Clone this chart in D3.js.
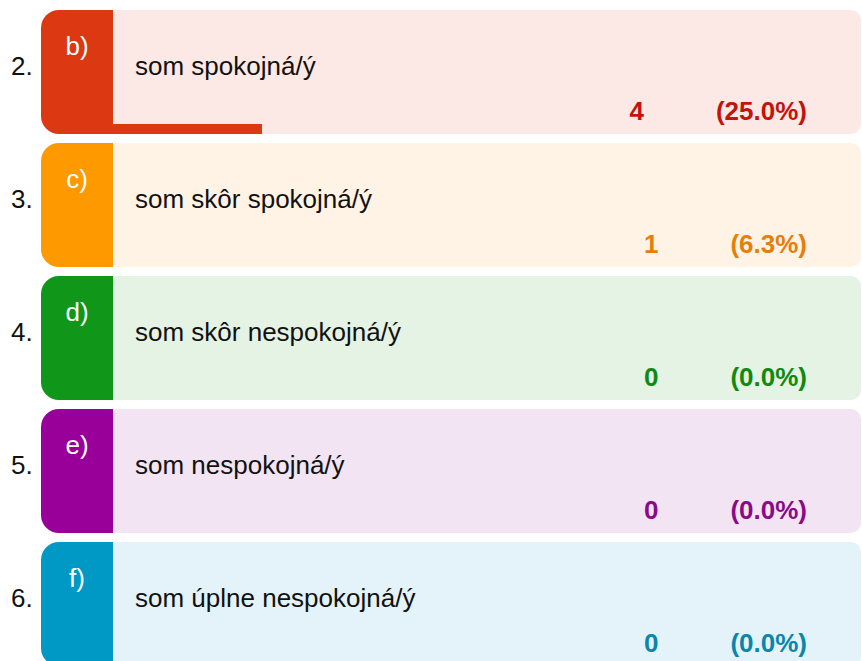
<!DOCTYPE html>
<html>
<head>
<meta charset="utf-8">
<script src="https://cdn.jsdelivr.net/npm/d3@7"></script>
<style>
  html, body { margin: 0; padding: 0; background: #ffffff; }
  svg { display: block; }
</style>
</head>
<body>
<svg id="chart" width="862" height="661"></svg>
<script>
// ---- data ----
const rowNumbers = ["2.", "3.", "4.", "5.", "6."];
const letters = ["b)", "c)", "d)", "e)", "f)"];
const labels = ["som spokojná/ý", "som skôr spokojná/ý", "som skôr nespokojná/ý", "som nespokojná/ý", "som úplne nespokojná/ý"];
const counts = [4, 1, 0, 0, 0];
const percents = [25.0, 6.3, 0.0, 0.0, 0.0];
const barPercent = [25.0, 0, 0, 0, 0];
const tabColors = ["#dc3912", "#ff9900", "#109618", "#990099", "#0099c6"];
const bgColors = ["#fce8e5", "#fff3e6", "#e5f3e5", "#f3e4f3", "#e3f3f9"];
const textColors = ["#c4130a", "#e67e0a", "#0e8a0e", "#8a0a8a", "#0a86ad"];

// ---- layout ----
const svg = d3.select("#chart");
const rowH = 124;
const left = 41, tabW = 72, right = 861;
const y = d3.scaleBand().domain(d3.range(rowNumbers.length)).range([10, 10 + 133 * rowNumbers.length]).paddingInner(9 / 133).paddingOuter(0);
const barX = d3.scaleLinear().domain([0, 100]).range([0, 600]);
const font = "Arial, 'Liberation Sans', sans-serif";

function tabPath(x0, y0, w, h, r) {
  return `M${x0 + r},${y0} H${x0 + w} V${y0 + h} H${x0 + r} A${r},${r} 0 0 1 ${x0},${y0 + h - r} V${y0 + r} A${r},${r} 0 0 1 ${x0 + r},${y0} Z`;
}

const rows = svg.selectAll("g.row").data(rowNumbers).join("g").attr("class", "row")
  .attr("transform", (d, i) => `translate(0,${10 + 133 * i})`);

rows.append("rect")
  .attr("x", left + 20).attr("y", 0)
  .attr("width", right - left - 20).attr("height", rowH)
  .attr("rx", 10).attr("ry", 10)
  .attr("fill", (d, i) => bgColors[i]);

rows.append("path")
  .attr("d", tabPath(left, 0, tabW, rowH, 18))
  .attr("fill", (d, i) => tabColors[i]);

rows.append("rect")
  .attr("x", left + tabW - 1).attr("y", 0)
  .attr("width", barX(0)).attr("height", 0);

rows.filter((d, i) => barPercent[i] > 0).append("rect")
  .attr("x", left + tabW - 1)
  .attr("y", rowH - 10)
  .attr("width", (d) => barX(barPercent[rowNumbers.indexOf(d)]))
  .attr("height", 10)
  .attr("fill", (d) => tabColors[rowNumbers.indexOf(d)]);

rows.append("text")
  .attr("x", 11).attr("y", 65)
  .attr("font-family", font).attr("font-size", 26)
  .attr("fill", "#111")
  .text(d => d);

rows.append("text")
  .attr("x", left + tabW / 2).attr("y", 45)
  .attr("text-anchor", "middle")
  .attr("font-family", font).attr("font-size", 26)
  .attr("fill", "#ffffff")
  .text((d, i) => letters[i]);

rows.append("text")
  .attr("x", 135).attr("y", 65)
  .attr("font-family", font).attr("font-size", 26)
  .attr("fill", "#111")
  .text((d, i) => labels[i]);

rows.each(function (d, i) {
  const g = d3.select(this);
  const pct = g.append("text")
    .attr("x", 807).attr("y", 110)
    .attr("text-anchor", "end")
    .attr("font-family", font).attr("font-size", 26).attr("font-weight", "bold")
    .attr("fill", textColors[i])
    .text(`(${d3.format(".1f")(percents[i])}%)`);
  const w = pct.node().getComputedTextLength();
  g.append("text")
    .attr("x", 807 - w - 72).attr("y", 110)
    .attr("text-anchor", "end")
    .attr("font-family", font).attr("font-size", 26).attr("font-weight", "bold")
    .attr("fill", textColors[i])
    .text(counts[i]);
});
</script>
</body>
</html>
